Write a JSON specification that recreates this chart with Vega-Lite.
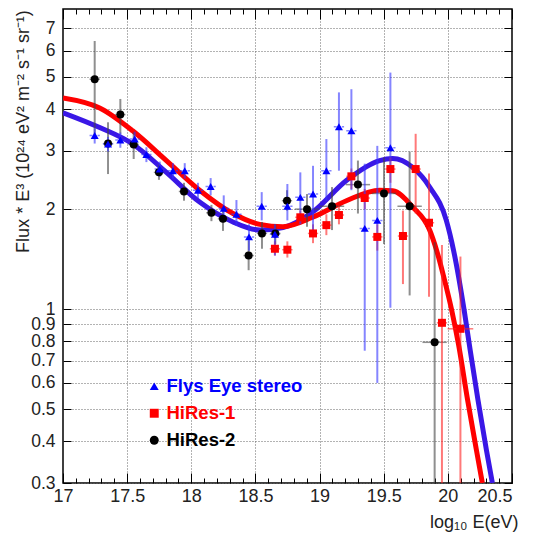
{
  "$schema": "https://vega.github.io/schema/vega-lite/v6.json",
  "width": 449,
  "height": 474,
  "autosize": {"type": "none"},
  "padding": {"left": 63, "top": 9, "right": 21, "bottom": 60},
  "background": "white",
  "config": {
    "font": "Liberation Sans",
    "view": {"stroke": "#000", "strokeWidth": 1.5},
    "axis": {"domain": false, "labelColor": "#222", "titleColor": "#222", "titleFontWeight": "normal", "tickColor": "#000", "labelFont": "Liberation Sans", "titleFont": "Liberation Sans"}
  },
  "datasets": {
    "curves": [
      {"curve": "Flys Eye", "x": 17.0, "y": 3.90},
      {"curve": "Flys Eye", "x": 17.286, "y": 3.52},
      {"curve": "Flys Eye", "x": 17.543, "y": 3.14},
      {"curve": "Flys Eye", "x": 17.806, "y": 2.58},
      {"curve": "Flys Eye", "x": 18.065, "y": 2.10},
      {"curve": "Flys Eye", "x": 18.325, "y": 1.83},
      {"curve": "Flys Eye", "x": 18.533, "y": 1.73},
      {"curve": "Flys Eye", "x": 18.715, "y": 1.76},
      {"curve": "Flys Eye", "x": 18.946, "y": 1.96},
      {"curve": "Flys Eye", "x": 19.209, "y": 2.44},
      {"curve": "Flys Eye", "x": 19.468, "y": 2.80},
      {"curve": "Flys Eye", "x": 19.570, "y": 2.84},
      {"curve": "Flys Eye", "x": 19.726, "y": 2.67},
      {"curve": "Flys Eye", "x": 19.858, "y": 2.33},
      {"curve": "Flys Eye", "x": 19.988, "y": 1.85},
      {"curve": "Flys Eye", "x": 20.045, "y": 1.50},
      {"curve": "Flys Eye", "x": 20.127, "y": 0.993},
      {"curve": "Flys Eye", "x": 20.174, "y": 0.753},
      {"curve": "Flys Eye", "x": 20.235, "y": 0.533},
      {"curve": "Flys Eye", "x": 20.300, "y": 0.378},
      {"curve": "Flys Eye", "x": 20.347, "y": 0.30},
      {"curve": "HiRes", "x": 17.0, "y": 4.32},
      {"curve": "HiRes", "x": 17.286, "y": 4.03},
      {"curve": "HiRes", "x": 17.543, "y": 3.44},
      {"curve": "HiRes", "x": 17.806, "y": 2.80},
      {"curve": "HiRes", "x": 18.065, "y": 2.28},
      {"curve": "HiRes", "x": 18.325, "y": 1.94},
      {"curve": "HiRes", "x": 18.533, "y": 1.80},
      {"curve": "HiRes", "x": 18.715, "y": 1.77},
      {"curve": "HiRes", "x": 18.946, "y": 1.89},
      {"curve": "HiRes", "x": 19.209, "y": 2.12},
      {"curve": "HiRes", "x": 19.468, "y": 2.28},
      {"curve": "HiRes", "x": 19.570, "y": 2.27},
      {"curve": "HiRes", "x": 19.726, "y": 2.03},
      {"curve": "HiRes", "x": 19.858, "y": 1.73},
      {"curve": "HiRes", "x": 19.913, "y": 1.50},
      {"curve": "HiRes", "x": 19.975, "y": 1.22},
      {"curve": "HiRes", "x": 20.030, "y": 0.993},
      {"curve": "HiRes", "x": 20.084, "y": 0.780},
      {"curve": "HiRes", "x": 20.154, "y": 0.533},
      {"curve": "HiRes", "x": 20.222, "y": 0.378},
      {"curve": "HiRes", "x": 20.269, "y": 0.30}
    ],
    "pts": [
      {"exp": "HiRes-2", "x": 17.247, "y": 4.92, "ylo": 3.33, "yhi": 6.41, "xlo": 17.207, "xhi": 17.287},
      {"exp": "HiRes-2", "x": 17.351, "y": 3.15, "ylo": 2.55, "yhi": 3.65, "xlo": 17.311, "xhi": 17.391},
      {"exp": "HiRes-2", "x": 17.447, "y": 3.85, "ylo": 3.37, "yhi": 4.29, "xlo": 17.407, "xhi": 17.487},
      {"exp": "HiRes-2", "x": 17.551, "y": 3.13, "ylo": 2.83, "yhi": 3.40, "xlo": 17.511, "xhi": 17.591},
      {"exp": "HiRes-2", "x": 17.748, "y": 2.58, "ylo": 2.45, "yhi": 2.72, "xlo": 17.708, "xhi": 17.788},
      {"exp": "HiRes-2", "x": 17.943, "y": 2.26, "ylo": 2.12, "yhi": 2.40, "xlo": 17.903, "xhi": 17.983},
      {"exp": "HiRes-2", "x": 18.157, "y": 1.95, "ylo": 1.84, "yhi": 2.06, "xlo": 18.117, "xhi": 18.197},
      {"exp": "HiRes-2", "x": 18.247, "y": 1.87, "ylo": 1.72, "yhi": 2.02, "xlo": 18.207, "xhi": 18.287},
      {"exp": "HiRes-2", "x": 18.447, "y": 1.45, "ylo": 1.31, "yhi": 1.61, "xlo": 18.407, "xhi": 18.487},
      {"exp": "HiRes-2", "x": 18.551, "y": 1.69, "ylo": 1.52, "yhi": 1.83, "xlo": 18.511, "xhi": 18.591},
      {"exp": "HiRes-2", "x": 18.655, "y": 1.69, "ylo": 1.57, "yhi": 1.80, "xlo": 18.615, "xhi": 18.695},
      {"exp": "HiRes-2", "x": 18.746, "y": 2.12, "ylo": 1.98, "yhi": 2.28, "xlo": 18.706, "xhi": 18.786},
      {"exp": "HiRes-2", "x": 18.902, "y": 2.00, "ylo": 1.77, "yhi": 2.22, "xlo": 18.807, "xhi": 18.997},
      {"exp": "HiRes-2", "x": 19.097, "y": 2.04, "ylo": 1.73, "yhi": 2.33, "xlo": 19.002, "xhi": 19.192},
      {"exp": "HiRes-2", "x": 19.299, "y": 2.37, "ylo": 1.94, "yhi": 2.80, "xlo": 19.204, "xhi": 19.394},
      {"exp": "HiRes-2", "x": 19.502, "y": 2.23, "ylo": 1.57, "yhi": 2.86, "xlo": 19.407, "xhi": 19.597},
      {"exp": "HiRes-2", "x": 19.702, "y": 2.04, "ylo": 1.10, "yhi": 2.98, "xlo": 19.607, "xhi": 19.797},
      {"exp": "HiRes-2", "x": 19.897, "y": 0.795, "ylo": 0.25, "yhi": 1.59, "xlo": 19.802, "xhi": 19.992},
      {"exp": "HiRes-1", "x": 18.652, "y": 1.52, "ylo": 1.45, "yhi": 1.60, "xlo": 18.612, "xhi": 18.692},
      {"exp": "HiRes-1", "x": 18.749, "y": 1.51, "ylo": 1.43, "yhi": 1.60, "xlo": 18.709, "xhi": 18.789},
      {"exp": "HiRes-1", "x": 18.850, "y": 1.89, "ylo": 1.80, "yhi": 1.98, "xlo": 18.810, "xhi": 18.890},
      {"exp": "HiRes-1", "x": 18.949, "y": 1.69, "ylo": 1.58, "yhi": 1.80, "xlo": 18.909, "xhi": 18.989},
      {"exp": "HiRes-1", "x": 19.053, "y": 1.79, "ylo": 1.67, "yhi": 1.93, "xlo": 19.013, "xhi": 19.093},
      {"exp": "HiRes-1", "x": 19.151, "y": 1.92, "ylo": 1.80, "yhi": 2.05, "xlo": 19.111, "xhi": 19.191},
      {"exp": "HiRes-1", "x": 19.248, "y": 2.51, "ylo": 2.30, "yhi": 2.65, "xlo": 19.208, "xhi": 19.288},
      {"exp": "HiRes-1", "x": 19.352, "y": 2.16, "ylo": 2.00, "yhi": 2.30, "xlo": 19.312, "xhi": 19.392},
      {"exp": "HiRes-1", "x": 19.450, "y": 1.65, "ylo": 1.50, "yhi": 1.80, "xlo": 19.410, "xhi": 19.490},
      {"exp": "HiRes-1", "x": 19.552, "y": 2.64, "ylo": 2.40, "yhi": 2.86, "xlo": 19.512, "xhi": 19.592},
      {"exp": "HiRes-1", "x": 19.650, "y": 1.66, "ylo": 1.19, "yhi": 1.98, "xlo": 19.610, "xhi": 19.690},
      {"exp": "HiRes-1", "x": 19.749, "y": 2.64, "ylo": 1.94, "yhi": 3.37, "xlo": 19.709, "xhi": 19.789},
      {"exp": "HiRes-1", "x": 19.853, "y": 1.82, "ylo": 1.09, "yhi": 2.56, "xlo": 19.813, "xhi": 19.893},
      {"exp": "HiRes-1", "x": 19.954, "y": 0.91, "ylo": 0.25, "yhi": 1.56, "xlo": 19.914, "xhi": 19.994},
      {"exp": "HiRes-1", "x": 20.098, "y": 0.873, "ylo": 0.25, "yhi": 1.44, "xlo": 19.998, "xhi": 20.198},
      {"exp": "Flys Eye stereo", "x": 17.247, "y": 3.33, "ylo": 3.15, "yhi": 3.50, "xlo": 17.207, "xhi": 17.287},
      {"exp": "Flys Eye stereo", "x": 17.351, "y": 3.14, "ylo": 2.98, "yhi": 3.30, "xlo": 17.311, "xhi": 17.391},
      {"exp": "Flys Eye stereo", "x": 17.447, "y": 3.23, "ylo": 3.06, "yhi": 3.40, "xlo": 17.407, "xhi": 17.487},
      {"exp": "Flys Eye stereo", "x": 17.559, "y": 3.25, "ylo": 3.08, "yhi": 3.42, "xlo": 17.519, "xhi": 17.599},
      {"exp": "Flys Eye stereo", "x": 17.650, "y": 2.92, "ylo": 2.77, "yhi": 3.07, "xlo": 17.610, "xhi": 17.690},
      {"exp": "Flys Eye stereo", "x": 17.754, "y": 2.64, "ylo": 2.50, "yhi": 2.78, "xlo": 17.714, "xhi": 17.794},
      {"exp": "Flys Eye stereo", "x": 17.857, "y": 2.61, "ylo": 2.47, "yhi": 2.75, "xlo": 17.817, "xhi": 17.897},
      {"exp": "Flys Eye stereo", "x": 17.949, "y": 2.61, "ylo": 2.47, "yhi": 2.75, "xlo": 17.909, "xhi": 17.989},
      {"exp": "Flys Eye stereo", "x": 18.052, "y": 2.28, "ylo": 2.16, "yhi": 2.40, "xlo": 18.012, "xhi": 18.092},
      {"exp": "Flys Eye stereo", "x": 18.151, "y": 2.34, "ylo": 2.20, "yhi": 2.48, "xlo": 18.111, "xhi": 18.191},
      {"exp": "Flys Eye stereo", "x": 18.253, "y": 2.01, "ylo": 1.83, "yhi": 2.20, "xlo": 18.213, "xhi": 18.293},
      {"exp": "Flys Eye stereo", "x": 18.352, "y": 1.93, "ylo": 1.78, "yhi": 2.13, "xlo": 18.312, "xhi": 18.392},
      {"exp": "Flys Eye stereo", "x": 18.450, "y": 1.65, "ylo": 1.50, "yhi": 1.80, "xlo": 18.410, "xhi": 18.490},
      {"exp": "Flys Eye stereo", "x": 18.549, "y": 2.04, "ylo": 1.85, "yhi": 2.25, "xlo": 18.509, "xhi": 18.589},
      {"exp": "Flys Eye stereo", "x": 18.652, "y": 1.68, "ylo": 1.45, "yhi": 1.80, "xlo": 18.612, "xhi": 18.692},
      {"exp": "Flys Eye stereo", "x": 18.749, "y": 2.04, "ylo": 1.85, "yhi": 2.38, "xlo": 18.709, "xhi": 18.789},
      {"exp": "Flys Eye stereo", "x": 18.850, "y": 2.17, "ylo": 1.80, "yhi": 2.58, "xlo": 18.810, "xhi": 18.890},
      {"exp": "Flys Eye stereo", "x": 18.949, "y": 2.22, "ylo": 1.73, "yhi": 2.70, "xlo": 18.909, "xhi": 18.989},
      {"exp": "Flys Eye stereo", "x": 19.053, "y": 2.61, "ylo": 2.12, "yhi": 3.25, "xlo": 19.013, "xhi": 19.093},
      {"exp": "Flys Eye stereo", "x": 19.151, "y": 3.54, "ylo": 2.61, "yhi": 4.49, "xlo": 19.111, "xhi": 19.191},
      {"exp": "Flys Eye stereo", "x": 19.248, "y": 3.44, "ylo": 2.28, "yhi": 4.59, "xlo": 19.208, "xhi": 19.288},
      {"exp": "Flys Eye stereo", "x": 19.352, "y": 1.75, "ylo": 0.75, "yhi": 2.74, "xlo": 19.312, "xhi": 19.392},
      {"exp": "Flys Eye stereo", "x": 19.450, "y": 1.85, "ylo": 0.60, "yhi": 3.10, "xlo": 19.410, "xhi": 19.490},
      {"exp": "Flys Eye stereo", "x": 19.552, "y": 3.06, "ylo": 1.01, "yhi": 5.15, "xlo": 19.512, "xhi": 19.592}
    ]
  },
  "resolve": {"axis": {"x": "independent", "y": "independent"}},
  "layer": [
    {
      "data": {"name": "curves"},
      "transform": [{"filter": "datum.curve == 'Flys Eye'"}],
      "mark": {"type": "line", "color": "#3a17e6", "strokeWidth": 5, "interpolate": "monotone", "clip": true},
      "encoding": {
        "x": {"field": "x", "type": "quantitative", "scale": {"domain": [17, 20.5], "nice": false, "zero": false},
          "axis": {"orient": "bottom", "grid": true, "gridDash": [1, 2], "gridColor": "#666", "gridOpacity": {"condition": {"test": "abs(datum.value*2 - round(datum.value*2)) < 0.001 && datum.value > 17.01 && datum.value < 20.49", "value": 1}, "value": 0},
            "values": [17, 17.1, 17.2, 17.3, 17.4, 17.5, 17.6, 17.7, 17.8, 17.9, 18, 18.1, 18.2, 18.3, 18.4, 18.5, 18.6, 18.7, 18.8, 18.9, 19, 19.1, 19.2, 19.3, 19.4, 19.5, 19.6, 19.7, 19.8, 19.9, 20, 20.1, 20.2, 20.3, 20.4, 20.5],
            "format": "~g",
            "labelExpr": "abs(datum.value*2 - round(datum.value*2)) < 0.001 ? datum.label : ''",
            "labelOverlap": false, "labelFlush": false, "labelBound": false,
            "labelAlign": {"condition": {"test": "datum.value > 20.49", "value": "right"}, "value": "center"},
            "labelFontSize": 18, "labelPadding": 14,
            "tickSize": {"condition": {"test": "abs(datum.value*2 - round(datum.value*2)) < 0.001", "value": -10}, "value": -5},
            "title": "log₁₀ E(eV)", "titleFontSize": 18, "titleAnchor": "end", "titleAlign": "right", "titleX": 455, "titleY": 39, "titleBaseline": "middle"}},
        "y": {"field": "y", "type": "quantitative", "scale": {"type": "log", "domain": [0.3, 8], "nice": false},
          "axis": {"orient": "left", "grid": true, "gridDash": [1, 2], "gridColor": "#666",
            "values": [0.3, 0.4, 0.5, 0.6, 0.7, 0.8, 0.9, 1, 2, 3, 4, 5, 6, 7],
            "format": "~g", "labelOverlap": false, "labelBound": false, "labelFlush": false,
            "labelFontSize": 17.5, "labelPadding": 16, "tickSize": -8,
            "title": "Flux * E³ (10²⁴ eV² m⁻² s⁻¹ sr⁻¹)", "titleFontSize": 18, "titleAngle": -90, "titleAlign": "center", "titleBaseline": "middle", "titleX": -40, "titleY": 122}}
      }
    },
    {
      "data": {"name": "curves"},
      "transform": [{"filter": "datum.curve == 'HiRes'"}],
      "mark": {"type": "line", "color": "#ff0000", "strokeWidth": 5, "interpolate": "monotone", "clip": true},
      "encoding": {
        "x": {"field": "x", "type": "quantitative",
          "axis": {"orient": "top", "grid": false, "labels": false, "title": null,
            "values": [17, 17.1, 17.2, 17.3, 17.4, 17.5, 17.6, 17.7, 17.8, 17.9, 18, 18.1, 18.2, 18.3, 18.4, 18.5, 18.6, 18.7, 18.8, 18.9, 19, 19.1, 19.2, 19.3, 19.4, 19.5, 19.6, 19.7, 19.8, 19.9, 20, 20.1, 20.2, 20.3, 20.4, 20.5],
            "tickSize": {"condition": {"test": "abs(datum.value*2 - round(datum.value*2)) < 0.001", "value": -10}, "value": -5}}},
        "y": {"field": "y", "type": "quantitative",
          "axis": {"orient": "right", "grid": false, "labels": false, "title": null,
            "values": [0.3, 0.4, 0.5, 0.6, 0.7, 0.8, 0.9, 1, 2, 3, 4, 5, 6, 7], "tickSize": -8}}
      }
    },
    {
      "data": {"name": "pts"},
      "transform": [{"filter": "datum.exp == 'HiRes-2'"}],
      "mark": {"type": "rule", "strokeWidth": 2, "opacity": 0.6, "color": "#444444", "clip": true},
      "encoding": {"x": {"field": "x", "type": "quantitative", "axis": null}, "y": {"field": "ylo", "type": "quantitative", "axis": null}, "y2": {"field": "yhi"}}
    },
    {
      "data": {"name": "pts"},
      "transform": [{"filter": "datum.exp == 'HiRes-2'"}],
      "mark": {"type": "rule", "strokeWidth": 1.5, "opacity": 0.6, "color": "#444444", "clip": true},
      "encoding": {"x": {"field": "xlo", "type": "quantitative", "axis": null}, "x2": {"field": "xhi"}, "y": {"field": "y", "type": "quantitative", "axis": null}}
    },
    {
      "data": {"name": "pts"},
      "transform": [{"filter": "datum.exp == 'HiRes-1'"}],
      "mark": {"type": "rule", "strokeWidth": 2, "opacity": 0.6, "color": "#ff2020", "clip": true},
      "encoding": {"x": {"field": "x", "type": "quantitative", "axis": null}, "y": {"field": "ylo", "type": "quantitative", "axis": null}, "y2": {"field": "yhi"}}
    },
    {
      "data": {"name": "pts"},
      "transform": [{"filter": "datum.exp == 'HiRes-1'"}],
      "mark": {"type": "rule", "strokeWidth": 1.5, "opacity": 0.6, "color": "#ff2020", "clip": true},
      "encoding": {"x": {"field": "xlo", "type": "quantitative", "axis": null}, "x2": {"field": "xhi"}, "y": {"field": "y", "type": "quantitative", "axis": null}}
    },
    {
      "data": {"name": "pts"},
      "transform": [{"filter": "datum.exp == 'Flys Eye stereo'"}],
      "mark": {"type": "rule", "strokeWidth": 2, "opacity": 0.6, "color": "#3333ff", "clip": true},
      "encoding": {"x": {"field": "x", "type": "quantitative", "axis": null}, "y": {"field": "ylo", "type": "quantitative", "axis": null}, "y2": {"field": "yhi"}}
    },
    {
      "data": {"name": "pts"},
      "transform": [{"filter": "datum.exp == 'Flys Eye stereo'"}],
      "mark": {"type": "rule", "strokeWidth": 1.5, "opacity": 0.6, "color": "#3333ff", "strokeDash": [3, 1], "clip": true},
      "encoding": {"x": {"field": "xlo", "type": "quantitative", "axis": null}, "x2": {"field": "xhi"}, "y": {"field": "y", "type": "quantitative", "axis": null}}
    },
    {
      "data": {"name": "pts"},
      "mark": {"type": "point", "filled": true, "size": 64, "opacity": 1, "clip": true},
      "encoding": {
        "x": {"field": "x", "type": "quantitative", "axis": null},
        "y": {"field": "y", "type": "quantitative", "axis": null},
        "color": {"field": "exp", "type": "nominal", "scale": {"domain": ["Flys Eye stereo", "HiRes-1", "HiRes-2"], "range": ["#0000ff", "#ff0000", "#000000"]},
          "legend": {"title": null, "orient": "none", "legendX": 82, "legendY": 368, "padding": 0, "labelFontSize": 18.5, "labelFontWeight": "bold", "labelFont": "Liberation Sans", "symbolSize": 80, "rowPadding": 8, "labelOffset": 3, "symbolStrokeWidth": 0,
            "labelColor": {"expr": "datum.value === 'HiRes-1' ? '#ff0000' : datum.value === 'HiRes-2' ? '#000000' : '#0000ff'"}}},
        "shape": {"field": "exp", "type": "nominal", "scale": {"domain": ["Flys Eye stereo", "HiRes-1", "HiRes-2"], "range": ["triangle-up", "square", "circle"]},
          "legend": {"title": null, "orient": "none", "legendX": 82, "legendY": 368, "padding": 0, "labelFontSize": 18.5, "labelFontWeight": "bold", "labelFont": "Liberation Sans", "symbolSize": 80, "rowPadding": 8, "labelOffset": 3, "symbolStrokeWidth": 0,
            "labelColor": {"expr": "datum.value === 'HiRes-1' ? '#ff0000' : datum.value === 'HiRes-2' ? '#000000' : '#0000ff'"}}}
      }
    }
  ]
}
